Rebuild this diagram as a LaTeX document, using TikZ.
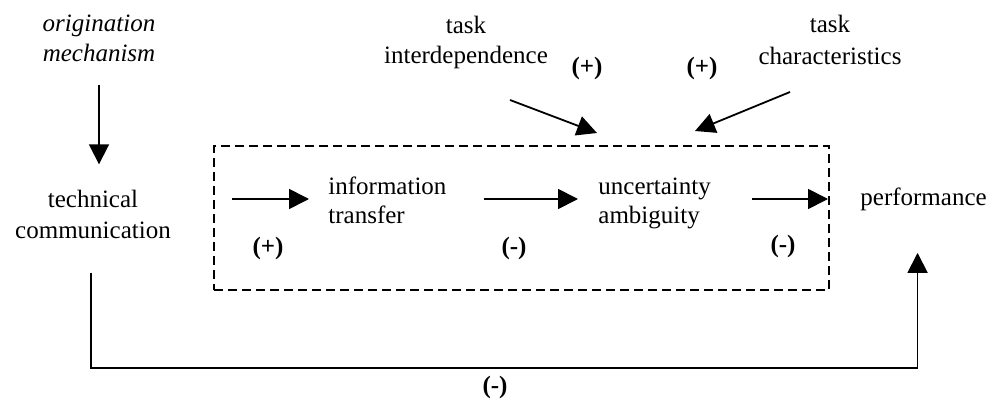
\documentclass[tikz,border=0pt]{standalone}
\usepackage{fontspec}
\setmainfont{Liberation Serif}
\usetikzlibrary{arrows.meta}
\begin{document}
\begin{tikzpicture}[
        x=0.5pt, y=-0.5pt,
        >={Triangle[length=10pt,width=10pt]},
        txt/.style={inner sep=0pt, align=center, font=\fontsize{12.5}{15.5}\selectfont},
        sign/.style={inner sep=0pt, font=\fontsize{12.5}{15}\selectfont\bfseries},
        arr/.style={draw, line width=0.9pt, ->},
        frame/.style={draw, line width=0.75pt, dash pattern=on 4.5pt off 2.5pt}
    ]
        \useasboundingbox (0,0) rectangle (991,401);

        \node[txt, font=\fontsize{12.5}{15}\selectfont\itshape] (O) at (99,38) {origination\\mechanism};
        \node[txt] (T) at (93,214) {technical\\communication};
        \node[txt, align=left, anchor=west, font=\fontsize{12.5}{14.5}\selectfont] (I) at (328,200) {information\\transfer};
        \node[txt, align=left, anchor=west, font=\fontsize{12.5}{14.5}\selectfont] (U) at (598,203) {uncertainty\\ambiguity};
        \node[txt, anchor=west] (P) at (860,199) {performance};
        \node[txt, font=\fontsize{12.5}{15}\selectfont] (TI) at (466,42) {task\\interdependence};
        \node[txt, font=\fontsize{12.5}{16}\selectfont] (TC) at (830,40) {task\\characteristics};

        \node[frame, minimum width=307.5pt, minimum height=72pt] (F) at (521.5,218) {};

        \node[sign] (s1) at (268,248) {(+)};
        \node[sign] (s2) at (514,248) {(-)};
        \node[sign] (s3) at (783,246) {(-)};
        \node[sign] (s4) at (587,68) {(+)};
        \node[sign] (s5) at (702,68) {(+)};
        \node[sign] (s6) at (495,387) {(-)};

        \coordinate (ti) at (510,100);
        \coordinate (tiend) at (597,133);
        \coordinate (tc) at (790,92);
        \coordinate (tcend) at (695,131);
        \coordinate (bot) at (500,368);

        \path[arr, shorten <=11.5pt, shorten >=12.5pt] (O.south) -- (O.south |- T.north);
        \path[arr, shorten <=30.5pt, shorten >=9.5pt] (T.east |- P.west) -- (I.west |- P.west);
        \path[arr, shorten <=18.5pt, shorten >=10pt] (I.east |- P.west) -- (U.west |- P.west);
        \path[arr, shorten <=20.5pt, shorten >=16pt] (U.east |- P.west) -- (P.west);
        \path[arr] (ti) -- (tiend);
        \path[arr] (tc) -- (tcend);
        \path[arr, shorten <=17pt, shorten >=21pt] ([xshift=-1pt]T.south) -- ([xshift=-1pt]T.south |- bot) -| ([xshift=-3pt]P.south);
    \end{tikzpicture}
\end{document}
